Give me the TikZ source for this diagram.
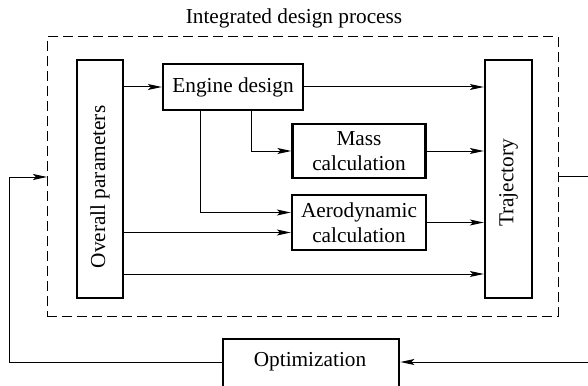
\documentclass[tikz,border=0pt]{standalone}
\usepackage{fontspec}
\setmainfont{Liberation Serif}
\usetikzlibrary{arrows.meta}
\begin{document}
\begin{tikzpicture}[x=1pt,y=-1pt,
  font=\fontsize{21.3}{24.5}\selectfont,
  blk/.style={draw, line width=2.4pt, inner sep=0pt, align=center},
  frame/.style={draw, line width=1pt, dash pattern=on 10pt off 5pt, inner sep=0pt},
  arr/.style={line width=1pt, -{Stealth[length=14pt,width=6pt,inset=3pt]}},
  ln/.style={line width=1pt}]
\useasboundingbox (0,0) rectangle (588,385);
\clip (0,0) rectangle (588,385);

% title and dashed process frame
\node (title) at (294,18) {Integrated design process};
\node[frame, minimum width=511pt, minimum height=279pt] (proc) at (302.5,176.5) {};

% blocks inside the frame
\node[blk, minimum width=46pt, minimum height=238pt] (op) at (100,179) {};
\node[rotate=90] (optxt) at (100,187) {Overall parameters};
\node[blk, minimum width=47pt, minimum height=238pt] (traj) at (508.5,179) {};
\node[rotate=90] (trtxt) at (508.5,183) {Trajectory};
\node[blk, minimum width=140pt, minimum height=46pt] (eng) at (233,87) {Engine design};
\node[blk, minimum width=133pt, minimum height=54pt] (mass) at (359,151) {Mass\\calculation};
\node[blk, minimum width=134pt, minimum height=55pt] (aero) at (359,222.5) {Aerodynamic\\calculation};

% optimization block below the frame
\node[blk, minimum width=176pt, minimum height=52pt, anchor=north west] (opt) at (222,338) {};
\node (opttxt) at (310,362) {Optimization};

% connectors inside the frame
\draw[arr] (op.east |- eng.west) -- (eng.west);
\draw[arr] (eng.east) -- (eng.east -| traj.west);
\draw[arr] ([xshift=18pt]eng.south) |- (mass.west);
\draw[arr] (mass.east) -- (mass.east -| traj.west);
\coordinate (a1) at ([yshift=10pt]aero.west);
\coordinate (a2) at ([yshift=-10pt]aero.west);
\draw[arr] ([xshift=-33pt]eng.south) |- (a1);
\draw[arr] (op.east |- a2) -- (a2);
\draw[arr] (aero.east) -- (aero.east -| traj.west);
\coordinate (low) at (0,274);
\draw[arr] (op.east |- low) -- (traj.west |- low);

% optimization loop
\coordinate (fbin) at (47,177);
\coordinate (fbout) at (proc.east |- 0,176);
\draw[arr] (opttxt -| opt.west) -- (9,362) -- (9,177) -- (fbin);
\draw[arr] (fbout) -- (600,176) -- (600,362) -- (opttxt -| opt.east);
\end{tikzpicture}
\end{document}
